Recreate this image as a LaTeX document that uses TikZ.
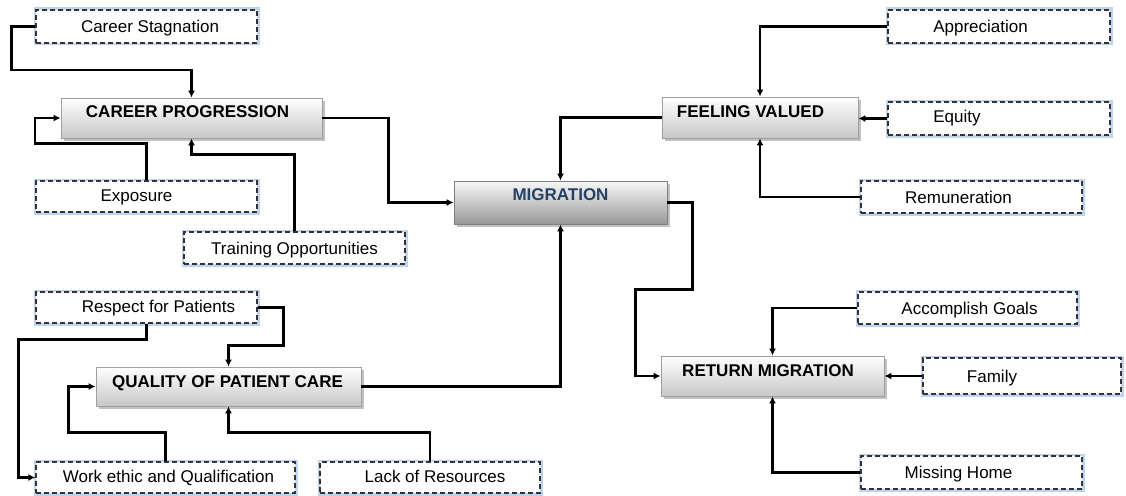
\documentclass[tikz,border=0pt]{standalone}
\usepackage{fontspec}
\setmainfont{Liberation Sans}
\usetikzlibrary{arrows.meta,shadows}
\definecolor{glow}{RGB}{190,212,238}
\definecolor{migtxt}{RGB}{36,66,100}
\newcommand\shtext[3]{\makebox[0pt]{\hspace*{#1}\hspace*{#1}\raisebox{#2}{#3}}}
\tikzset{
 dbox/.style={draw=black!80, dash pattern=on 5pt off 3pt, line width=1.3pt, fill=white,
   preaction={draw=glow, line width=5pt, solid}, inner sep=0pt, text height=12.2pt, text depth=0pt,
   font=\fontsize{17pt}{20pt}\selectfont},
 mbox/.style={draw=gray!75, line width=0.8pt, top color=white, bottom color=black!22,
   drop shadow={shadow xshift=2.5pt, shadow yshift=-2.5pt, fill=gray!60, opacity=0.8},
   inner sep=0pt, text height=12.2pt, text depth=0pt, font=\bfseries\fontsize{17pt}{20pt}\selectfont},
 migbox/.style={mbox, top color=black!3, bottom color=black!40, draw=black!50, text=migtxt},
 conn/.style={line width=2.4pt, -{Latex[length=7pt,width=7pt]}},
}
\begin{document}
\begin{tikzpicture}[x=1pt,y=-1pt]
\fill[white] (0,0) rectangle (1126,495);
\useasboundingbox (0,0) rectangle (1126,495);
% left top cluster
\node[dbox, minimum width=221pt, minimum height=33pt] (cs) at (146.5,26.5) {\shtext{3.5pt}{0pt}{Career Stagnation}};
\node[mbox, minimum width=261pt, minimum height=40pt] (cp) at (191.5,118) {\shtext{-4pt}{6.5pt}{CAREER PROGRESSION}};
\node[dbox, minimum width=221pt, minimum height=31pt] (ex) at (146.5,196.5) {\shtext{-10pt}{1pt}{Exposure}};
\node[dbox, minimum width=221pt, minimum height=32pt] (tr) at (294.5,248) {\shtext{0pt}{0pt}{Training Opportunities}};
% centre
\node[migbox, minimum width=213pt, minimum height=43pt] (mig) at (560.5,202.5) {\shtext{0pt}{8pt}{MIGRATION}};
% right top cluster
\node[mbox, minimum width=196pt, minimum height=41pt] (fv) at (760,117.5) {\shtext{-9.5pt}{6pt}{FEELING VALUED}};
\node[dbox, minimum width=222pt, minimum height=33pt] (ap) at (999,26.5) {\shtext{-18.5pt}{0pt}{Appreciation}};
\node[dbox, minimum width=222pt, minimum height=33pt] (eq) at (999,118.5) {\shtext{-42pt}{2.5pt}{Equity}};
\node[dbox, minimum width=221pt, minimum height=32pt] (re) at (971.5,197) {\shtext{-13pt}{0pt}{Remuneration}};
% left bottom cluster
\node[dbox, minimum width=221pt, minimum height=31pt] (rp) at (146.5,307.5) {\shtext{12pt}{1pt}{Respect for Patients}};
\node[mbox, minimum width=265pt, minimum height=39pt] (qpc) at (228.5,386.5) {\shtext{-1pt}{5.5pt}{QUALITY OF PATIENT CARE}};
\node[dbox, minimum width=259pt, minimum height=31pt] (we) at (165.5,477.5) {\shtext{3pt}{1pt}{Work ethic and Qualification}};
\node[dbox, minimum width=220pt, minimum height=31pt] (lr) at (430,477.5) {\shtext{5pt}{1pt}{Lack of Resources}};
% right bottom cluster
\node[mbox, minimum width=223pt, minimum height=40pt] (rm) at (772.5,376) {\shtext{-4.5pt}{6pt}{RETURN MIGRATION}};
\node[dbox, minimum width=219pt, minimum height=32pt] (ag) at (967.5,308) {\shtext{2pt}{0pt}{Accomplish Goals}};
\node[dbox, minimum width=198pt, minimum height=36pt] (fa) at (1022,376) {\shtext{-30pt}{0pt}{Family}};
\node[dbox, minimum width=221pt, minimum height=33pt] (mh) at (971.5,472.5) {\shtext{-13pt}{0pt}{Missing Home}};
% connectors
\draw[conn] (cs.west) -- ++(-24,0) -- ++(0,43.5) -| (cp.north);
\draw[conn] (ex.north) -- ++(0,-37) -- ++(-111.5,0) |- (cp.west);
\draw[conn] (tr.north) -- ++(0,-77) -| (cp.south);
\draw[conn] (cp.east) -- ++(66,0) |- (mig.west);
\draw[conn] (fv.west) -| (mig.north);
\draw[conn] (ap.west) -| (fv.north);
\draw[conn] (eq.west) -- (eq.west -| fv.east);
\draw[conn] (re.west) -| (fv.south);
\draw[conn] (mig.east) -- ++(25,0) -- ++(0,87) -- ++(-57,0) |- (rm.west);
\draw[conn] (qpc.east) -| (mig.south);
\draw[conn] (rp.east) -- ++(26,0) -- ++(0,38) -| (qpc.north);
\draw[conn] (rp.south) -- ++(0,16) -- ++(-128,0) |- (we.west);
\draw[conn] (we.north) -- ++(0,-29) -- ++(-97,0) |- (qpc.west);
\draw[conn] (lr.north) -- ++(0,-29) -| (qpc.south);
\draw[conn] (ag.west) -| (rm.north);
\draw[conn] (fa.west) -- (fa.west -| rm.east);
\draw[conn] (mh.west) -| (rm.south);
\end{tikzpicture}
\end{document}
